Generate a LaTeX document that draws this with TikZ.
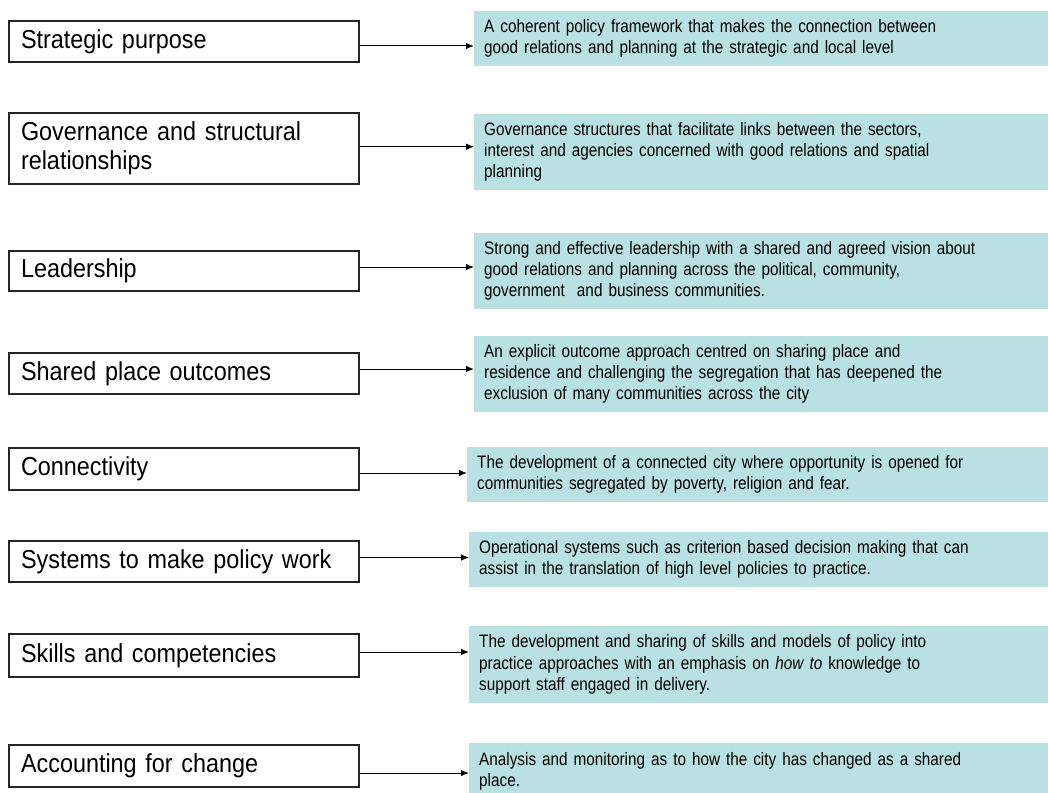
\documentclass[tikz,border=0pt]{standalone}
\usepackage{fontspec}
\setmainfont{Liberation Sans}
\newfontfamily\factorfont[FakeStretch=0.9, WordSpace=0.85]{Liberation Sans}
\newfontfamily\detailfont[FakeStretch=0.85, WordSpace=0.8]{Liberation Sans}
\usetikzlibrary{arrows.meta, positioning}
\definecolor{paleteal}{RGB}{185,224,227}

\begin{document}
\begin{tikzpicture}[
    x=1pt, y=-1pt,
    factor/.style={
        rectangle,
        draw=black!85,
        line width=1.2pt,
        text width=326pt,
        inner xsep=12pt,
        inner ysep=0pt,
        align=left,
        font=\factorfont\fontsize{26}{29}\selectfont
    },
    detail/.style={
        rectangle,
        fill=paleteal,
        anchor=west,
        text width=574pt,
        inner xsep=10pt,
        inner ysep=0pt,
        align=left,
        font=\detailfont\fontsize{18}{21.3}\selectfont
    },
    arrow/.style={line width=1pt, -{Latex[length=8pt,width=6.5pt]}, color=black}
]

    % Page frame
    \clip (0,0) rectangle (1048,792);

    % Define nodes (left column)
    \node (purpose) [factor, minimum height=41pt] at (184,41.5) {Strategic purpose};
    \node (govern) [factor, minimum height=71pt] at (184,148.5) {Governance and structural\\relationships};
    \node (lead) [factor, minimum height=40pt] at (184,271) {Leadership};
    \node (shared) [factor, minimum height=41pt] at (184,373.5) {Shared place outcomes};
    \node (connect) [factor, minimum height=42pt] at (184,469) {Connectivity};
    \node (systems) [factor, minimum height=41pt] at (184,561.5) {Systems to make policy work};
    \node (skills) [factor, minimum height=43pt] at (184,655.5) {Skills and competencies};
    \node (account) [factor, minimum height=42pt] at (184,766) {Accounting for change};

    % Define nodes (right column)
    \node (purpose_d) [detail, minimum height=55pt] at (474,38.5) {A coherent policy framework that makes the connection between\\good relations and planning at the strategic and local level};
    \node (govern_d) [detail, minimum height=76pt] at (474,152) {Governance structures that facilitate links between the sectors,\\interest and agencies concerned with good relations and spatial\\planning};
    \node (lead_d) [detail, minimum height=76pt] at (474,271) {Strong and effective leadership with a shared and agreed vision about\\good relations and planning across the political, community,\\government~ and business communities.};
    \node (shared_d) [detail, minimum height=76pt] at (474,374) {An explicit outcome approach centred on sharing place and\\residence and challenging the segregation that has deepened the\\exclusion of many communities across the city};
    \node (connect_d) [detail, minimum height=55pt] at (467,474.5) {The development of a connected city where opportunity is opened for\\communities segregated by poverty, religion and fear.};
    \node (systems_d) [detail, minimum height=55pt] at (469,559.5) {Operational systems such as criterion based decision making that can\\assist in the translation of high level policies to practice.};
    \node (skills_d) [detail, minimum height=77pt] at (469,664.5) {The development and sharing of skills and models of policy into\\practice approaches with an emphasis on \textit{how to} knowledge to\\support staff engaged in delivery.};
    \node (account_d) [detail, minimum height=56pt] at (469,771) {Analysis and monitoring as to how the city has changed as a shared\\place.};

    % Arrow heights
    \coordinate (r1) at (0,46);
    \coordinate (r2) at (0,146.7);
    \coordinate (r3) at (0,267);
    \coordinate (r4) at (0,369);
    \coordinate (r5) at (0,473);
    \coordinate (r6) at (0,557.5);
    \coordinate (r7) at (0,652);
    \coordinate (r8) at (0,773);

    % Draw connections
    \draw [arrow] (purpose.east |- r1) -- (purpose_d.west |- r1);
    \draw [arrow] (govern.east |- r2) -- (govern_d.west |- r2);
    \draw [arrow] (lead.east |- r3) -- (lead_d.west |- r3);
    \draw [arrow] (shared.east |- r4) -- (shared_d.west |- r4);
    \draw [arrow] (connect.east |- r5) -- (connect_d.west |- r5);
    \draw [arrow] (systems.east |- r6) -- (systems_d.west |- r6);
    \draw [arrow] (skills.east |- r7) -- (skills_d.west |- r7);
    \draw [arrow] (account.east |- r8) -- (account_d.west |- r8);

\end{tikzpicture}
\end{document}
